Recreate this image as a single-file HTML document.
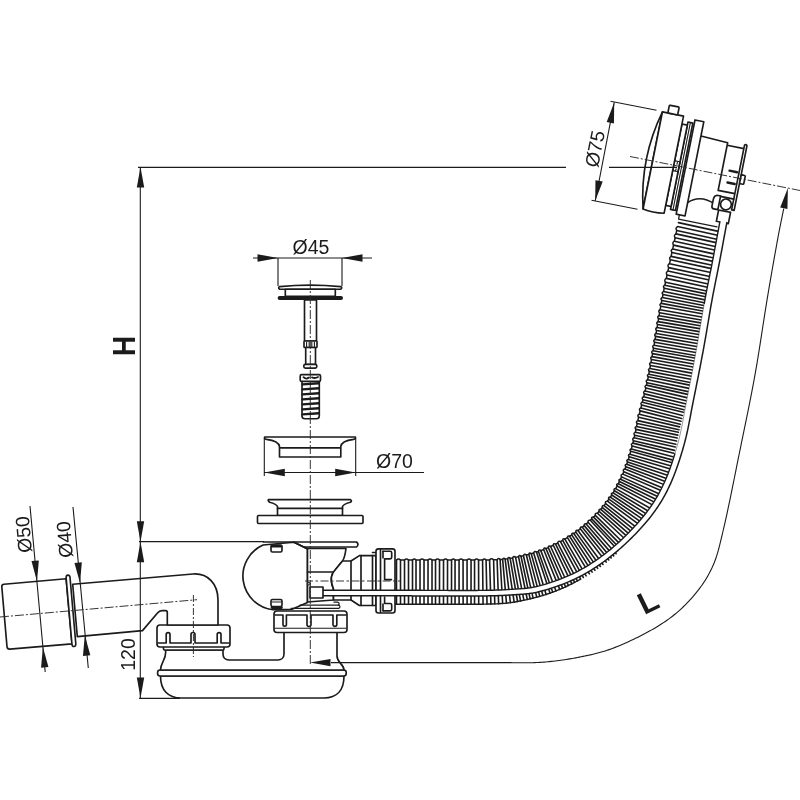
<!DOCTYPE html>
<html><head><meta charset="utf-8"><title>Bath drain diagram</title>
<style>html,body{margin:0;padding:0;background:#fff}body{width:800px;height:800px;overflow:hidden;font-family:"Liberation Sans",sans-serif}svg{display:block;filter:grayscale(1)}</style>
</head><body>
<svg width="800" height="800" viewBox="0 0 800 800">
<rect width="800" height="800" fill="#fff"/>
<g font-family="'Liberation Sans', sans-serif" fill="#1b1b1b">
<g stroke="#1b1b1b" stroke-width="1.65" fill="#fff" stroke-linejoin="round" stroke-linecap="round">
<path d="M160.5 676C160.5 690 168 698 181 698H324C337 698 344 690 344 676Z"/>
<rect x="157.6" y="670" width="188.6" height="6" rx="2.5"/>
<path d="M165.5 650C167 659 161 661 160.5 670H344C344 664 337 663 337 656V632H284V654C284 658 281 660 278 660H229C225 660 223 657 223 654V650Z"/>
<rect x="163.5" y="645" width="60.5" height="5" rx="1"/>
<rect x="157" y="625" width="73" height="22" rx="3"/>
<path d="M158 643H166.2V634.5a1.9 1.9 0 0 1 3.8 0V643H191V634.5a2 2 0 0 1 4 0V643H217.2V634.5a1.9 1.9 0 0 1 3.8 0V643H229" fill="none"/>
<rect x="274" y="611" width="73" height="21.5" rx="3"/>
<path d="M275 615H283V624.5a1.7 1.7 0 0 0 3.4 0V615H307V624.5a2 2 0 0 0 4 0V615H333V624.5a1.9 1.9 0 0 0 3.8 0V615H346" fill="none"/>
<path d="M275 628.3H346" fill="none" stroke-width="1.1"/>
<path d="M72.7 584.2L193 574C208 573 218 584 218 600V625H167.3V612.5Q167.3 610.6 165.5 610.6H162Q159.3 610.8 157.5 613L142.5 630.6L77.3 636.6Z"/>
<path d="M4 584.3Q1.6 584.6 1.8 586.8L7 646.6Q7.3 649.3 9.8 649.1L72 643.9L66.1 578.7Z"/>
<path d="M66.1 577.6Q66.3 575 67.8 575.1Q69.6 575 70 577.25L75.84 644Q75.6 646.6 74.05 646.5Q72.3 646.6 71.96 644.3Z"/>
<path d="M263 545A34 34 0 0 0 273 609.8L292 609.3L307.5 602.5V549L294 542.3Z"/>
<path d="M307.5 548.5H346C345 556 344 559 342.5 561L335.5 569.5C332 573 331 577 331.3 581C331.5 585 332.5 587 333.5 589V600L307.5 602Z"/>
<path d="M307.5 572H334" fill="none"/>
<path d="M342.5 561H351L359.4 555.6H376V605.5H359.4L351 600H333.5V589C332 585 331 581 331.5 577C332 573 334 571 335.5 569.5Z"/>
<path d="M351 561V600M361 555.6V605.5M372.5 555.6V605.5" fill="none"/>
<path d="M263.5 542H356.5Q359.5 544.4 356.5 547H304.5" fill="none"/>
<path d="M294 542.3L307.5 548.8" fill="none"/>
<path d="M300 605.2H339Q341 606.8 339 608.3H291" fill="none" stroke-width="1.2"/>
<path d="M334 602.2H338Q340 603.5 338.5 605" fill="none" stroke-width="1.2"/>
<rect x="271" y="545" width="11" height="7" rx="1.5" fill="#fff"/>
<path d="M272 546.2H281" stroke-width="2.6" fill="none"/>
<rect x="271" y="599.5" width="11" height="7" rx="1.5" fill="#fff"/>
<path d="M272 607.6H281.5" stroke-width="2.6" fill="none"/>
<path d="M272 602H281" stroke-width="1" fill="none"/>
<path d="M372.5 552.5L376 552.5" fill="none"/>
<rect x="376" y="548.8" width="19" height="64.2" rx="2.5"/>
<path d="M380.5 549.5V612.3" fill="none"/>
<path d="M383 551.2H390.2Q391.7 551.2 391.7 552.7V557.3Q391.7 558.8 390.2 558.8H384.6V579.6H391.5" fill="none"/>
<path d="M383 551.2V558" fill="none"/>
<path d="M383 610.8H390.2Q391.7 610.8 391.7 609.3V605Q391.7 603.5 390.2 603.5H384.6V597" fill="none"/>
<path d="M383 610.8V604" fill="none"/>
</g>
<g stroke="#1b1b1b" stroke-width="1.6" stroke-linecap="round" fill="none">
<path d="M396.5 560.1L396.5 604.2 M400.5 560.1L400.5 604.2 M404.51 560.1L404.51 604.2 M408.51 560.1L408.51 604.2 M412.51 560.1L412.51 604.2 M416.01 560.1L416.01 604.2 M420.02 560.1L420.02 604.2 M424.02 560.1L424.02 604.2 M428.02 560.1L428.02 604.2 M432.02 560.1L432.01 604.2 M435.53 560.1L435.5 604.2 M439.53 560.11L439.49 604.21 M443.53 560.11L443.49 604.21 M447.53 560.11L447.5 604.21 M451.54 560.11L451.52 604.21 M455.04 560.11L455.05 604.21 M459.04 560.11L459.09 604.21 M463.05 560.1L463.14 604.2 M467.05 560.1L467.11 604.2 M471.05 560.09L471.04 604.19 M474.55 560.1L474.55 604.2 M478.56 560.09L478.71 604.19 M482.57 560.06L483.06 604.16 M486.08 560.01L487.03 604.1 M489.59 559.91L490.9 603.99 M493.59 559.8L494.79 603.88 M497.09 559.69L498.61 603.72 M500.11 559.56L502.67 603.47 M502.63 559.38L506.47 603.14 M505.15 559.11L510.38 602.68 M507.66 558.77L514.15 602.11 M510.14 558.37L517.56 601.51 M512.62 557.93L520.54 600.92 M515.58 557.37L523.89 600.21 M518.53 556.78L527.29 599.47 M520.99 556.26L530.17 598.8 M523.44 555.72L533.12 598.09 M526.37 555.03L536.72 597.17 M528.81 554.41L539.79 596.34 M531.24 553.75L542.92 595.43 M533.66 553.05L546.12 594.45 M536.55 552.14L550.07 593.13 M538.46 551.49L552.74 592.18 M540.83 550.63L556.01 590.93 M543.64 549.53L559.73 589.4 M545.97 548.57L562.69 588.12 M548.28 547.57L565.59 586.8 M550.57 546.54L568.45 585.46 M553.3 545.25L571.83 583.8 M555.56 544.15L574.61 582.37 M557.8 543.01L577.37 580.91 M560.47 541.6L580.67 579.1 M562.68 540.39L583.4 577.53 M564.87 539.15L586.13 575.92 M567.47 537.61L589.41 573.9 M569.61 536.29L592.16 572.14 M571.73 534.93L594.93 570.3 M573.82 533.53L597.67 568.39 M575.88 532.09L600.37 566.44 M577.92 530.6L603.01 564.45 M580.33 528.78L606.14 562.04 M582.3 527.22L608.71 560.01 M584.25 525.62L611.22 557.95 M586.17 523.99L613.68 555.86 M588.06 522.33L616.1 553.74 M590.29 520.3L617.59 549.71 M591.76 518.92L619.49 548.05 M593.57 517.17L621.86 545.93 M595.35 515.39L624.24 543.74 M597.44 513.21L627.13 541 M599.14 511.35L629.51 538.67 M600.81 509.46L631.86 536.32 M602.44 507.54L634.16 533.94 M604.03 505.59L636.43 531.55 M605.59 503.61L638.65 529.14 M607.41 501.2L641.27 526.22 M608.89 499.16L643.18 523.59 M610.33 497.1L645.03 520.94 M611.74 495.01L646.86 518.23 M613.11 492.9L648.68 515.41 M614.43 490.75L650.51 512.45 M615.71 488.58L652.27 509.44 M617.17 485.93L654.26 505.84 M618.34 483.7L655.82 502.87 M619.47 481.45L657.29 499.94 M620.55 479.18L658.68 497.04 M621.6 476.89L659.99 494.18 M622.82 474.13L661.47 490.82 M623.8 471.82L662.65 488.05 M624.94 469.03L664.05 484.62 M625.85 466.68L665.23 481.57 M626.72 464.31L666.38 478.43 M627.54 461.93L667.46 475.31 M628.32 459.54L668.46 472.25 M629.21 456.66L669.56 468.68 M629.91 454.25L670.39 465.81 M630.73 451.35L671.32 462.51 M631.38 448.93L672.04 459.86 M632.15 446.02L672.88 456.68 M632.9 443.1L673.75 453.29 M633.5 440.66L674.46 450.37 M634.17 437.73L675.24 446.98 M634.72 435.28L675.85 444.25 M635.35 432.34L676.53 441.09 M635.97 429.4L677.17 438.05 M636.58 426.46L677.78 435.12 M637.21 423.53L678.37 432.34 M637.84 420.6L678.94 429.74 M638.62 417.2L679.6 426.85 M639.32 414.29L680.21 424.32 M640.17 410.9L680.97 421.27 M640.91 407.99L681.69 418.47 M641.66 405.08L682.46 415.45 M642.39 402.16L683.26 412.29 M642.99 399.73L683.89 409.72 M643.7 396.81L684.6 406.79 M644.41 393.9L685.32 403.84 M645.12 390.98L686.06 400.78 M645.81 388.05L686.81 397.62 M646.48 385.12L687.55 394.39 M647.03 382.67L688.16 391.65 M647.66 379.73L688.86 388.37 M648.26 376.78L689.53 385.14 M648.76 374.32L690.06 382.49 M649.33 371.37L690.67 379.33 M649.89 368.42L691.27 376.21 M650.44 365.47L691.84 373.12 M650.99 362.51L692.4 370.07 M651.52 359.56L692.95 367.04 M652.06 356.6L693.49 364.04 M652.58 353.64L694.03 361.05 M653.11 350.69L694.56 358.07 M653.55 348.22L695.01 355.55 M654.07 345.27L695.54 352.49 M654.58 342.31L696.07 349.44 M655.09 339.35L696.59 346.42 M655.59 336.39L697.1 343.43 M656.09 333.43L697.6 340.45 M656.59 330.46L698.1 337.48 M657.09 327.51L698.6 334.53 M657.59 324.55L699.1 331.59 M658.1 321.59L699.6 328.66 M658.6 318.63L700.1 325.74 M659.11 315.67L700.6 322.84 M659.62 312.71L701.1 319.95 M660.14 309.76L701.6 317.08 M660.76 306.31L702.19 313.77 M661.29 303.36L702.7 310.97 M661.84 300.42L703.21 308.21 M662.4 297.47L703.74 305.44 M662.98 294.53L704.28 302.67 M663.56 291.59L704.83 299.9 M664.26 288.16L705.49 296.67 M664.87 285.23L706.07 293.88 M665.49 282.29L706.67 291.08 M666.34 278.38L707.48 287.28 M667.08 274.96L708.21 283.91 M667.93 271.05L709.07 280 M668.67 267.63L709.82 276.53 M669.52 263.71L710.68 272.56 M670.36 259.8L711.52 268.65 M671.1 256.38L712.25 265.27 M671.94 252.46L713.09 261.39 M672.69 249.04L713.82 258 M673.54 245.13L714.67 254.11 M674.39 241.22L715.52 250.21 M675.14 237.8L716.27 246.8 M676 233.89L717.12 242.89 M676.75 230.47L717.87 239.46 M677.6 226.56L718.73 235.54 M678.45 222.65L719.59 231.61"/>
</g>
<path d="M396.5 560.1Q398.5 557.9 400.5 560.1L404.51 560.1Q406.51 557.9 408.51 560.1L412.51 560.1Q414.26 557.9 416.01 560.1L420.02 560.1Q422.02 557.9 424.02 560.1L428.02 560.1Q430.02 557.9 432.02 560.1L435.53 560.1Q437.53 557.9 439.53 560.11L443.53 560.11Q445.53 557.91 447.53 560.11L451.54 560.11Q453.29 557.91 455.04 560.11L459.04 560.11Q461.04 557.91 463.05 560.1L467.05 560.1Q469.05 557.9 471.05 560.09L474.55 560.1Q476.55 557.89 478.56 560.09L482.57 560.06Q484.29 557.83 486.08 560.01L489.59 559.91Q491.52 557.66 493.59 559.8L497.09 559.69Q498.5 557.43 500.11 559.56L502.63 559.38Q503.67 557.06 505.15 559.11L507.66 558.77Q508.55 556.4 510.14 558.37L512.62 557.93Q513.69 555.49 515.58 557.37L518.53 556.78Q519.3 554.37 520.99 556.26L523.44 555.72Q524.4 553.23 526.37 555.03L528.81 554.41Q529.45 551.96 531.24 553.75L533.66 553.05Q534.44 550.5 536.55 552.14L538.46 551.49Q538.89 548.99 540.83 550.63L543.64 549.53Q543.97 547.01 545.97 548.57L548.28 547.57Q548.52 545.05 550.57 546.54L553.3 545.25Q553.47 542.72 555.56 544.15L557.8 543.01Q558.11 540.36 560.47 541.6L562.68 540.39Q562.69 537.86 564.87 539.15L567.47 537.61Q567.38 535.08 569.61 536.29L571.73 534.93Q571.55 532.4 573.82 533.53L575.88 532.09Q575.61 529.57 577.92 530.6L580.33 528.78Q579.95 526.27 582.3 527.22L584.25 525.62Q583.79 523.13 586.17 523.99L588.06 522.33Q587.7 519.69 590.29 520.3L591.76 518.92Q591.13 516.47 593.57 517.17L595.35 515.39Q594.81 512.78 597.44 513.21L599.14 511.35Q598.33 508.95 600.81 509.46L602.44 507.54Q601.53 505.17 604.03 505.59L605.59 503.61Q604.74 501.08 607.41 501.2L608.89 499.16Q607.81 496.87 610.33 497.1L611.74 495.01Q610.57 492.76 613.11 492.9L614.43 490.75Q613.17 488.55 615.71 488.58L617.17 485.93Q615.81 483.79 618.34 483.7L619.47 481.45Q618.02 479.36 620.55 479.18L621.6 476.89Q620.2 474.62 622.82 474.13L623.8 471.82Q622.33 469.59 624.94 469.03L625.85 466.68Q624.22 464.74 626.72 464.31L627.54 461.93Q625.84 460.06 628.32 459.54L629.21 456.66Q627.45 454.83 629.91 454.25L630.73 451.35Q628.93 449.56 631.38 448.93L632.15 446.02Q630.4 444.02 632.9 443.1L633.5 440.66Q631.69 438.7 634.17 437.73L634.72 435.28Q632.88 433.34 635.35 432.34L635.97 429.4Q634.12 427.48 636.58 426.46L637.21 423.53Q635.37 421.59 637.84 420.6L638.62 417.2Q636.83 415.23 639.32 414.29L640.17 410.9Q638.41 408.9 640.91 407.99L641.66 405.08Q639.89 403.09 642.39 402.16L642.99 399.73Q641.21 397.75 643.7 396.81L644.41 393.9Q642.63 391.92 645.12 390.98L645.81 388.05Q644 386.09 646.48 385.12L647.03 382.67Q645.19 380.74 647.66 379.73L648.26 376.78Q646.35 375.12 648.76 374.32L649.33 371.37Q647.45 369.48 649.89 368.42L650.44 365.47Q648.55 363.59 650.99 362.51L651.52 359.56Q649.62 357.69 652.06 356.6L652.58 353.64Q650.68 351.78 653.11 350.69L653.55 348.22Q651.64 346.36 654.07 345.27L654.58 342.31Q652.67 340.45 655.09 339.35L655.59 336.39Q653.67 334.54 656.09 333.43L656.59 330.46Q654.67 328.62 657.09 327.51L657.59 324.55Q655.68 322.7 658.1 321.59L658.6 318.63Q656.69 316.78 659.11 315.67L659.62 312.71Q657.72 310.86 660.14 309.76L660.76 306.31Q658.86 304.45 661.29 303.36L661.84 300.42Q659.96 298.53 662.4 297.47L662.98 294.53Q661.11 292.63 663.56 291.59L664.26 288.16Q662.41 286.24 664.87 285.23L665.49 282.29Q663.76 279.87 666.34 278.38L667.08 274.96Q665.35 272.54 667.93 271.05L668.67 267.63Q666.94 265.2 669.52 263.71L670.36 259.8Q668.58 257.62 671.1 256.38L671.94 252.46Q670.17 250.29 672.69 249.04L673.54 245.13Q671.82 242.71 674.39 241.22L675.14 237.8Q673.42 235.38 676 233.89L676.75 230.47Q675.02 228.04 677.6 226.56" fill="none" stroke="#1b1b1b" stroke-width="1.5" stroke-linejoin="round"/>
<path d="M395 604.2 L397 604.2 L399 604.2 L401 604.2 L403.01 604.2 L405.01 604.2 L407.01 604.2 L409.01 604.2 L411.01 604.2 L413.01 604.2 L415.01 604.2 L417.01 604.2 L419.02 604.2 L421.02 604.2 L423.02 604.2 L425.02 604.2 L427.02 604.2 L429.02 604.2 L431.01 604.2 L433.01 604.2 L435 604.2 L436.99 604.2 L438.99 604.2 L440.99 604.21 L442.99 604.21 L445 604.21 L447 604.21 L449.01 604.21 L451.02 604.21 L453.03 604.21 L455.05 604.21 L457.07 604.21 L459.09 604.21 L461.12 604.21 L463.14 604.2 L465.14 604.2 L467.11 604.2 L469.07 604.19 L471.04 604.19 L473.03 604.2 L475.06 604.2 L477.13 604.19 L479.24 604.19 L481.4 604.18 L483.62 604.15 L485.89 604.12 L488.17 604.07 L490.38 604.01 L492.4 603.95 L494.31 603.89 L496.32 603.84 L498.61 603.72 L501.24 603.57 L504.16 603.35 L507.25 603.06 L510.38 602.68 L513.42 602.23 L516.25 601.75 L518.79 601.27 L521.1 600.8 L523.33 600.33 L525.58 599.85 L527.86 599.34 L530.17 598.8 L532.52 598.24 L534.91 597.64 L537.33 597.01 L539.79 596.34 L542.28 595.62 L544.83 594.85 L547.42 594.02 L550.07 593.13 L552.74 592.18 L555.37 591.18 L557.9 590.17 L560.33 589.15 L562.69 588.12 L565.02 587.07 L567.31 586 L569.58 584.91 L571.83 583.8 L574.06 582.66 L576.27 581.5 L578.47 580.31 L580.67 579.1" fill="none" stroke="#1b1b1b" stroke-width="1.4"/>
<g stroke="#1b1b1b" stroke-width="1.65" fill="#fff" stroke-linejoin="round" stroke-linecap="round">
<g transform="translate(652.75,160.45) rotate(11.3)">
<path d="M42.5 30H75V52.3H36.8V48H42.5Z" stroke="none"/>
<path d="M36.8 48.5V52.5H76" fill="none" stroke-width="1.3"/>
<path d="M42.5 -33.4L70 -32V-29.5H87V16.5H70V30H42.5Z" stroke="none"/>
<path d="M42.5 -33.4L70 -32V16.5M70 -29.5H87M70 16.5H87" fill="none"/>
<path d="M42.5 34.5Q53 24 69 30.5" fill="none"/>
<path d="M87 -33Q88.2 -34.5 89.5 -33L89.6 33L87 33Z"/>
<rect x="89.6" y="-3.3" width="4.2" height="9" rx="0.8"/>
<path d="M77.3 -5H85M77.6 7H85" fill="none" stroke-width="2.4"/>
<path d="M70 21.5H73.5V35.5H69.2Q67 35.5 67 33V26Q67 22.5 70 21.5Z"/>
<circle cx="80.4" cy="28.8" r="5.4"/>
<path d="M73.5 22H87" fill="none"/>
<rect x="74.3" y="35.7" width="12.2" height="11.5"/>
<rect x="33.5" y="-48" width="9" height="96"/>
<rect x="27" y="-44.5" width="5" height="89"/>
<path d="M29.5 -44.5V44.5" fill="none" stroke-width="1.1"/>
<rect x="21.5" y="-41.5" width="5.5" height="83"/>
<path d="M22 -4H27V6H22M24.5 -4V-1M24.5 6V3.5" fill="none" stroke-width="1.1"/>
<path d="M0 -49.5Q-13 0 0 49.5Z"/>
<path d="M0 -49.5H21.5V49.5Q10 51.5 0 49.5Z"/>
<rect x="5.5" y="-57.5" width="10" height="8" rx="1"/>
</g>
</g>
<path d="M323 595.8 L325 595.8 L327 595.8 L329 595.8 L331 595.8 L333 595.8 L335 595.8 L337 595.8 L339 595.8 L341 595.8 L343 595.8 L345 595.8 L347 595.8 L349 595.8 L351 595.8 L353 595.8 L355 595.8 L357 595.8 L359 595.8 L361 595.8 L363 595.8 L365 595.8 L367 595.8 L369 595.79 L371 595.79 L373 595.79 L375 595.79 L377 595.79 L379 595.79 L381 595.79 L383 595.79 L385 595.79 L387 595.79 L389 595.79 L391 595.79 L393.01 595.8 L395.01 595.8 L397.01 595.81 L399.01 595.81 L401.01 595.82 L403.01 595.83 L405.01 595.84 L407.01 595.85 L409.01 595.86 L411.01 595.87 L413.01 595.88 L415.01 595.89 L417.01 595.9 L419.01 595.91 L421.01 595.92 L423.01 595.93 L425.01 595.94 L427.01 595.95 L429.01 595.96 L431.01 595.97 L433.01 595.98 L435.01 595.98 L437.01 595.99 L439.01 596 L441.01 596 L443.01 596.01 L445.01 596.02 L447.01 596.02 L449.01 596.03 L451.01 596.04 L453.01 596.05 L455.01 596.06 L457.01 596.06 L459.01 596.07 L461.01 596.07 L463.01 596.08 L465.01 596.08 L467.01 596.08 L469.01 596.08 L471.01 596.07 L473.01 596.06 L475.01 596.05 L477.01 596.03 L479.01 596.01 L481.01 595.98 L483.01 595.96 L485.01 595.93 L487.01 595.9 L489.01 595.86 L491.01 595.82 L493.01 595.78 L495.01 595.73 L497.01 595.67 L499.01 595.6 L501.01 595.52 L503 595.43 L505 595.32 L507 595.2 L508.99 595.07 L510.99 594.94 L512.99 594.81 L514.98 594.69 L516.98 594.57 L518.98 594.46 L520.97 594.34 L522.97 594.19 L524.96 594.03 L526.95 593.83 L528.94 593.6 L530.92 593.32 L532.89 593.01 L534.86 592.64 L536.82 592.24 L538.77 591.78 L540.71 591.3 L542.64 590.78 L544.56 590.24 L546.48 589.68 L548.4 589.1 L550.31 588.51 L552.21 587.9 L554.11 587.27 L556.01 586.62 L557.89 585.96 L559.77 585.28 L561.65 584.58 L563.52 583.87 L565.38 583.13 L567.23 582.38 L569.08 581.61 L570.91 580.81 L572.74 580 L574.55 579.16 L576.36 578.3 L578.15 577.41 L579.93 576.5 L581.7 575.57 L583.46 574.61 L585.2 573.64 L586.94 572.65 L588.67 571.63 L590.38 570.6 L592.08 569.56 L593.78 568.49 L595.46 567.41 L597.13 566.3 L598.79 565.19 L600.43 564.05 L602.07 562.9 L603.7 561.74 L605.31 560.56 L606.92 559.36 L608.51 558.15 L610.09 556.93 L611.66 555.69 L613.22 554.44 L614.77 553.17 L616.31 551.89 L617.83 550.6 L619.35 549.29 L620.85 547.97 L622.34 546.64 L623.82 545.3 L625.29 543.94 L626.75 542.57 L628.2 541.19 L629.64 539.81 L631.07 538.41 L632.49 537 L633.9 535.58 L635.3 534.15 L636.68 532.71 L638.06 531.26 L639.42 529.79 L640.78 528.32 L642.12 526.84 L643.45 525.34 L644.76 523.83 L646.06 522.31 L647.34 520.78 L648.61 519.23 L649.86 517.67 L651.1 516.1 L652.32 514.51 L653.52 512.91 L654.7 511.3 L655.86 509.67 L656.99 508.02 L658.11 506.36 L659.2 504.69 L660.27 503 L661.32 501.29 L662.34 499.57 L663.34 497.84 L664.32 496.1 L665.27 494.34 L666.2 492.57 L667.12 490.79 L668.01 489 L668.89 487.2 L669.74 485.39 L670.57 483.57 L671.38 481.74 L672.17 479.91 L672.94 478.06 L673.69 476.2 L674.42 474.34 L675.13 472.47 L675.83 470.6 L676.51 468.72 L677.18 466.83 L677.83 464.94 L678.47 463.05 L679.1 461.15 L679.72 459.25 L680.33 457.34 L680.92 455.43 L681.51 453.52 L682.08 451.6 L682.65 449.69 L683.21 447.77 L683.75 445.84 L684.29 443.91 L684.81 441.98 L685.31 440.05 L685.8 438.11 L686.26 436.16 L686.71 434.21 L687.15 432.26 L687.58 430.31 L687.99 428.35 L688.39 426.39 L688.79 424.43 L689.17 422.47 L689.56 420.5 L689.93 418.54 L690.31 416.57 L690.68 414.61 L691.05 412.64 L691.42 410.68 L691.79 408.71 L692.17 406.75 L692.55 404.79 L692.94 402.82 L693.33 400.86 L693.72 398.9 L694.12 396.94 L694.52 394.98 L694.91 393.02 L695.31 391.06 L695.7 389.1 L696.1 387.14 L696.49 385.18 L696.88 383.21 L697.27 381.25 L697.66 379.29 L698.05 377.33 L698.44 375.37 L698.83 373.4 L699.21 371.44 L699.6 369.48 L699.98 367.52 L700.36 365.55 L700.74 363.59 L701.12 361.62 L701.49 359.66 L701.87 357.69 L702.24 355.73 L702.61 353.76 L702.98 351.8 L703.34 349.83 L703.71 347.86 L704.07 345.9 L704.42 343.93 L704.77 341.96 L705.12 339.99 L705.46 338.02 L705.81 336.05 L706.14 334.08 L706.48 332.11 L706.82 330.13 L707.15 328.16 L707.49 326.19 L707.82 324.22 L708.15 322.25 L708.48 320.27 L708.82 318.3 L709.15 316.33 L709.48 314.36 L709.82 312.39 L710.16 310.41 L710.5 308.44 L710.84 306.47 L711.19 304.5 L711.54 302.53 L711.9 300.57 L712.26 298.6 L712.63 296.63 L713 294.67 L713.38 292.7 L713.76 290.74 L714.14 288.78 L714.53 286.81 L714.92 284.85 L715.32 282.89 L715.71 280.93 L716.11 278.97 L716.51 277.01 L716.91 275.05 L717.3 273.09 L717.7 271.13 L718.09 269.17 L718.48 267.21 L718.86 265.24 L719.24 263.28 L719.62 261.32 L719.99 259.35 L720.37 257.39 L720.74 255.42 L721.11 253.45 L721.47 251.49 L721.84 249.52 L722.21 247.56 L722.57 245.59 L722.94 243.62 L723.3 241.66 L723.66 239.69 L724.03 237.72 L724.39 235.76 L724.75 233.79 L725.12 231.82 L725.48 229.86 L725.85 227.89 L726.22 225.92 L726.6 223.96 L727 222 L720.15 220.57 L719.73 222.59 L719.34 224.62 L718.97 226.6 L718.6 228.58 L718.24 230.55 L717.87 232.52 L717.51 234.48 L717.14 236.45 L716.78 238.42 L716.42 240.38 L716.05 242.35 L715.69 244.31 L715.32 246.28 L714.96 248.24 L714.59 250.2 L714.23 252.17 L713.86 254.13 L713.49 256.09 L713.12 258.05 L712.74 260 L712.37 261.96 L711.99 263.91 L711.61 265.85 L711.22 267.8 L710.83 269.75 L710.44 271.71 L710.05 273.66 L709.65 275.62 L709.25 277.58 L708.85 279.54 L708.46 281.51 L708.06 283.48 L707.67 285.45 L707.28 287.42 L706.89 289.4 L706.5 291.38 L706.12 293.36 L705.75 295.34 L705.38 297.32 L705.01 299.31 L704.65 301.29 L704.3 303.28 L703.95 305.26 L703.6 307.25 L703.26 309.23 L702.92 311.21 L702.58 313.18 L702.25 315.16 L701.91 317.14 L701.58 319.11 L701.25 321.08 L700.92 323.05 L700.58 325.02 L700.25 326.99 L699.92 328.96 L699.59 330.93 L699.27 332.9 L698.94 334.86 L698.61 336.83 L698.28 338.79 L697.94 340.75 L697.61 342.71 L697.27 344.66 L696.92 346.62 L696.57 348.58 L696.22 350.54 L695.86 352.5 L695.5 354.46 L695.14 356.42 L694.78 358.38 L694.42 360.34 L694.05 362.3 L693.68 364.26 L693.32 366.22 L692.95 368.18 L692.57 370.14 L692.2 372.1 L691.82 374.06 L691.45 376.02 L691.07 377.98 L690.69 379.94 L690.31 381.9 L689.93 383.86 L689.55 385.82 L689.17 387.78 L688.79 389.74 L688.4 391.71 L688.02 393.67 L687.63 395.63 L687.25 397.59 L686.86 399.56 L686.48 401.54 L686.1 403.53 L685.73 405.51 L685.36 407.48 L684.99 409.46 L684.63 411.43 L684.27 413.4 L683.91 415.36 L683.55 417.32 L683.19 419.28 L682.82 421.22 L682.45 423.17 L682.07 425.1 L681.69 427.04 L681.29 428.96 L680.89 430.88 L680.47 432.79 L680.04 434.69 L679.59 436.59 L679.13 438.48 L678.66 440.36 L678.16 442.24 L677.65 444.12 L677.12 446.02 L676.59 447.91 L676.04 449.8 L675.48 451.69 L674.92 453.58 L674.34 455.46 L673.76 457.33 L673.16 459.2 L672.56 461.07 L671.94 462.93 L671.31 464.78 L670.67 466.63 L670.02 468.46 L669.35 470.29 L668.66 472.11 L667.96 473.93 L667.25 475.73 L666.52 477.52 L665.77 479.3 L665 481.06 L664.21 482.82 L663.39 484.57 L662.56 486.31 L661.7 488.05 L660.83 489.77 L659.94 491.48 L659.03 493.18 L658.1 494.87 L657.15 496.53 L656.18 498.19 L655.19 499.83 L654.17 501.45 L653.13 503.07 L652.07 504.66 L650.99 506.25 L649.88 507.82 L648.75 509.38 L647.61 510.94 L646.44 512.48 L645.25 514.01 L644.04 515.53 L642.82 517.03 L641.59 518.53 L640.33 520.01 L639.06 521.49 L637.78 522.95 L636.48 524.41 L635.17 525.85 L633.84 527.29 L632.5 528.71 L631.16 530.13 L629.8 531.54 L628.42 532.94 L627.04 534.32 L625.65 535.7 L624.25 537.07 L622.84 538.43 L621.42 539.77 L619.99 541.11 L618.55 542.43 L617.1 543.74 L615.64 545.04 L614.17 546.32 L612.69 547.59 L611.2 548.85 L609.7 550.09 L608.18 551.31 L606.64 552.52 L605.1 553.71 L603.55 554.89 L601.99 556.05 L600.41 557.2 L598.83 558.34 L597.24 559.46 L595.64 560.56 L594.02 561.64 L592.4 562.71 L590.77 563.77 L589.12 564.8 L587.47 565.82 L585.81 566.82 L584.13 567.8 L582.45 568.76 L580.76 569.71 L579.06 570.63 L577.35 571.53 L575.63 572.41 L573.91 573.26 L572.17 574.09 L570.42 574.9 L568.66 575.69 L566.88 576.46 L565.09 577.21 L563.3 577.94 L561.49 578.65 L559.67 579.34 L557.85 580.02 L556.01 580.69 L554.18 581.33 L552.33 581.96 L550.48 582.57 L548.62 583.17 L546.76 583.75 L544.89 584.31 L543.02 584.85 L541.15 585.38 L539.29 585.88 L537.45 586.34 L535.61 586.77 L533.78 587.15 L531.94 587.49 L530.09 587.79 L528.23 588.04 L526.35 588.26 L524.45 588.45 L522.54 588.61 L520.6 588.75 L518.64 588.87 L516.66 588.98 L514.66 589.1 L512.64 589.22 L510.62 589.35 L508.62 589.48 L506.64 589.61 L504.68 589.73 L502.72 589.83 L500.76 589.93 L498.8 590.01 L496.83 590.07 L494.86 590.13 L492.88 590.18 L490.9 590.23 L488.91 590.26 L486.92 590.3 L484.93 590.33 L482.93 590.36 L480.93 590.39 L478.94 590.41 L476.95 590.43 L474.97 590.45 L472.98 590.46 L470.99 590.47 L469 590.48 L467.01 590.48 L465.01 590.48 L463.02 590.48 L461.02 590.47 L459.03 590.47 L457.03 590.46 L455.03 590.46 L453.03 590.45 L451.03 590.44 L449.03 590.43 L447.03 590.42 L445.03 590.42 L443.03 590.41 L441.02 590.4 L439.02 590.4 L437.03 590.39 L435.03 590.38 L433.03 590.38 L431.03 590.37 L429.03 590.36 L427.03 590.35 L425.03 590.34 L423.04 590.33 L421.04 590.32 L419.04 590.31 L417.04 590.3 L415.04 590.29 L413.04 590.28 L411.04 590.27 L409.03 590.26 L407.03 590.25 L405.03 590.24 L403.03 590.23 L401.03 590.22 L399.03 590.21 L397.02 590.21 L395.02 590.2 L393.02 590.2 L391.01 590.19 L389.01 590.19 L387.01 590.19 L385.01 590.19 L383 590.19 L381 590.19 L379 590.19 L377 590.19 L375 590.19 L373 590.19 L371 590.19 L369 590.19 L367 590.2 L365 590.2 L363 590.2 L361 590.2 L359 590.2 L357 590.2 L355 590.2 L353 590.2 L351 590.2 L349 590.2 L347 590.2 L345 590.2 L343 590.2 L341 590.2 L339 590.2 L337 590.2 L335 590.2 L333 590.2 L331 590.2 L329 590.2 L327 590.2 L325 590.2 L323 590.2Z" fill="#fff" stroke="none"/>
<path d="M323 595.8 L325 595.8 L327 595.8 L329 595.8 L331 595.8 L333 595.8 L335 595.8 L337 595.8 L339 595.8 L341 595.8 L343 595.8 L345 595.8 L347 595.8 L349 595.8 L351 595.8 L353 595.8 L355 595.8 L357 595.8 L359 595.8 L361 595.8 L363 595.8 L365 595.8 L367 595.8 L369 595.79 L371 595.79 L373 595.79 L375 595.79 L377 595.79 L379 595.79 L381 595.79 L383 595.79 L385 595.79 L387 595.79 L389 595.79 L391 595.79 L393.01 595.8 L395.01 595.8 L397.01 595.81 L399.01 595.81 L401.01 595.82 L403.01 595.83 L405.01 595.84 L407.01 595.85 L409.01 595.86 L411.01 595.87 L413.01 595.88 L415.01 595.89 L417.01 595.9 L419.01 595.91 L421.01 595.92 L423.01 595.93 L425.01 595.94 L427.01 595.95 L429.01 595.96 L431.01 595.97 L433.01 595.98 L435.01 595.98 L437.01 595.99 L439.01 596 L441.01 596 L443.01 596.01 L445.01 596.02 L447.01 596.02 L449.01 596.03 L451.01 596.04 L453.01 596.05 L455.01 596.06 L457.01 596.06 L459.01 596.07 L461.01 596.07 L463.01 596.08 L465.01 596.08 L467.01 596.08 L469.01 596.08 L471.01 596.07 L473.01 596.06 L475.01 596.05 L477.01 596.03 L479.01 596.01 L481.01 595.98 L483.01 595.96 L485.01 595.93 L487.01 595.9 L489.01 595.86 L491.01 595.82 L493.01 595.78 L495.01 595.73 L497.01 595.67 L499.01 595.6 L501.01 595.52 L503 595.43 L505 595.32 L507 595.2 L508.99 595.07 L510.99 594.94 L512.99 594.81 L514.98 594.69 L516.98 594.57 L518.98 594.46 L520.97 594.34 L522.97 594.19 L524.96 594.03 L526.95 593.83 L528.94 593.6 L530.92 593.32 L532.89 593.01 L534.86 592.64 L536.82 592.24 L538.77 591.78 L540.71 591.3 L542.64 590.78 L544.56 590.24 L546.48 589.68 L548.4 589.1 L550.31 588.51 L552.21 587.9 L554.11 587.27 L556.01 586.62 L557.89 585.96 L559.77 585.28 L561.65 584.58 L563.52 583.87 L565.38 583.13 L567.23 582.38 L569.08 581.61 L570.91 580.81 L572.74 580 L574.55 579.16 L576.36 578.3 L578.15 577.41 L579.93 576.5 L581.7 575.57 L583.46 574.61 L585.2 573.64 L586.94 572.65 L588.67 571.63 L590.38 570.6 L592.08 569.56 L593.78 568.49 L595.46 567.41 L597.13 566.3 L598.79 565.19 L600.43 564.05 L602.07 562.9 L603.7 561.74 L605.31 560.56 L606.92 559.36 L608.51 558.15 L610.09 556.93 L611.66 555.69 L613.22 554.44 L614.77 553.17 L616.31 551.89 L617.83 550.6 L619.35 549.29 L620.85 547.97 L622.34 546.64 L623.82 545.3 L625.29 543.94 L626.75 542.57 L628.2 541.19 L629.64 539.81 L631.07 538.41 L632.49 537 L633.9 535.58 L635.3 534.15 L636.68 532.71 L638.06 531.26 L639.42 529.79 L640.78 528.32 L642.12 526.84 L643.45 525.34 L644.76 523.83 L646.06 522.31 L647.34 520.78 L648.61 519.23 L649.86 517.67 L651.1 516.1 L652.32 514.51 L653.52 512.91 L654.7 511.3 L655.86 509.67 L656.99 508.02 L658.11 506.36 L659.2 504.69 L660.27 503 L661.32 501.29 L662.34 499.57 L663.34 497.84 L664.32 496.1 L665.27 494.34 L666.2 492.57 L667.12 490.79 L668.01 489 L668.89 487.2 L669.74 485.39 L670.57 483.57 L671.38 481.74 L672.17 479.91 L672.94 478.06 L673.69 476.2 L674.42 474.34 L675.13 472.47 L675.83 470.6 L676.51 468.72 L677.18 466.83 L677.83 464.94 L678.47 463.05 L679.1 461.15 L679.72 459.25 L680.33 457.34 L680.92 455.43 L681.51 453.52 L682.08 451.6 L682.65 449.69 L683.21 447.77 L683.75 445.84 L684.29 443.91 L684.81 441.98 L685.31 440.05 L685.8 438.11 L686.26 436.16 L686.71 434.21 L687.15 432.26 L687.58 430.31 L687.99 428.35 L688.39 426.39 L688.79 424.43 L689.17 422.47 L689.56 420.5 L689.93 418.54 L690.31 416.57 L690.68 414.61 L691.05 412.64 L691.42 410.68 L691.79 408.71 L692.17 406.75 L692.55 404.79 L692.94 402.82 L693.33 400.86 L693.72 398.9 L694.12 396.94 L694.52 394.98 L694.91 393.02 L695.31 391.06 L695.7 389.1 L696.1 387.14 L696.49 385.18 L696.88 383.21 L697.27 381.25 L697.66 379.29 L698.05 377.33 L698.44 375.37 L698.83 373.4 L699.21 371.44 L699.6 369.48 L699.98 367.52 L700.36 365.55 L700.74 363.59 L701.12 361.62 L701.49 359.66 L701.87 357.69 L702.24 355.73 L702.61 353.76 L702.98 351.8 L703.34 349.83 L703.71 347.86 L704.07 345.9 L704.42 343.93 L704.77 341.96 L705.12 339.99 L705.46 338.02 L705.81 336.05 L706.14 334.08 L706.48 332.11 L706.82 330.13 L707.15 328.16 L707.49 326.19 L707.82 324.22 L708.15 322.25 L708.48 320.27 L708.82 318.3 L709.15 316.33 L709.48 314.36 L709.82 312.39 L710.16 310.41 L710.5 308.44 L710.84 306.47 L711.19 304.5 L711.54 302.53 L711.9 300.57 L712.26 298.6 L712.63 296.63 L713 294.67 L713.38 292.7 L713.76 290.74 L714.14 288.78 L714.53 286.81 L714.92 284.85 L715.32 282.89 L715.71 280.93 L716.11 278.97 L716.51 277.01 L716.91 275.05 L717.3 273.09 L717.7 271.13 L718.09 269.17 L718.48 267.21 L718.86 265.24 L719.24 263.28 L719.62 261.32 L719.99 259.35 L720.37 257.39 L720.74 255.42 L721.11 253.45 L721.47 251.49 L721.84 249.52 L722.21 247.56 L722.57 245.59 L722.94 243.62 L723.3 241.66 L723.66 239.69 L724.03 237.72 L724.39 235.76 L724.75 233.79 L725.12 231.82 L725.48 229.86 L725.85 227.89 L726.22 225.92 L726.6 223.96 L727 222" fill="none" stroke="#1b1b1b" stroke-width="1.5"/>
<path d="M323 590.2 L325 590.2 L327 590.2 L329 590.2 L331 590.2 L333 590.2 L335 590.2 L337 590.2 L339 590.2 L341 590.2 L343 590.2 L345 590.2 L347 590.2 L349 590.2 L351 590.2 L353 590.2 L355 590.2 L357 590.2 L359 590.2 L361 590.2 L363 590.2 L365 590.2 L367 590.2 L369 590.19 L371 590.19 L373 590.19 L375 590.19 L377 590.19 L379 590.19 L381 590.19 L383 590.19 L385.01 590.19 L387.01 590.19 L389.01 590.19 L391.01 590.19 L393.02 590.2 L395.02 590.2 L397.02 590.21 L399.03 590.21 L401.03 590.22 L403.03 590.23 L405.03 590.24 L407.03 590.25 L409.03 590.26 L411.04 590.27 L413.04 590.28 L415.04 590.29 L417.04 590.3 L419.04 590.31 L421.04 590.32 L423.04 590.33 L425.03 590.34 L427.03 590.35 L429.03 590.36 L431.03 590.37 L433.03 590.38 L435.03 590.38 L437.03 590.39 L439.02 590.4 L441.02 590.4 L443.03 590.41 L445.03 590.42 L447.03 590.42 L449.03 590.43 L451.03 590.44 L453.03 590.45 L455.03 590.46 L457.03 590.46 L459.03 590.47 L461.02 590.47 L463.02 590.48 L465.01 590.48 L467.01 590.48 L469 590.48 L470.99 590.47 L472.98 590.46 L474.97 590.45 L476.95 590.43 L478.94 590.41 L480.93 590.39 L482.93 590.36 L484.93 590.33 L486.92 590.3 L488.91 590.26 L490.9 590.23 L492.88 590.18 L494.86 590.13 L496.83 590.07 L498.8 590.01 L500.76 589.93 L502.72 589.83 L504.68 589.73 L506.64 589.61 L508.62 589.48 L510.62 589.35 L512.64 589.22 L514.66 589.1 L516.66 588.98 L518.64 588.87 L520.6 588.75 L522.54 588.61 L524.45 588.45 L526.35 588.26 L528.23 588.04 L530.09 587.79 L531.94 587.49 L533.78 587.15 L535.61 586.77 L537.45 586.34 L539.29 585.88 L541.15 585.38 L543.02 584.85 L544.89 584.31 L546.76 583.75 L548.62 583.17 L550.48 582.57 L552.33 581.96 L554.18 581.33 L556.01 580.69 L557.85 580.02 L559.67 579.34 L561.49 578.65 L563.3 577.94 L565.09 577.21 L566.88 576.46 L568.66 575.69 L570.42 574.9 L572.17 574.09 L573.91 573.26 L575.63 572.41 L577.35 571.53 L579.06 570.63 L580.76 569.71 L582.45 568.76 L584.13 567.8 L585.81 566.82 L587.47 565.82 L589.12 564.8 L590.77 563.77 L592.4 562.71 L594.02 561.64 L595.64 560.56 L597.24 559.46 L598.83 558.34 L600.41 557.2 L601.99 556.05 L603.55 554.89 L605.1 553.71 L606.64 552.52 L608.18 551.31 L609.7 550.09 L611.2 548.85 L612.69 547.59 L614.17 546.32 L615.64 545.04 L617.1 543.74 L618.55 542.43 L619.99 541.11 L621.42 539.77 L622.84 538.43 L624.25 537.07 L625.65 535.7 L627.04 534.32 L628.42 532.94 L629.8 531.54 L631.16 530.13 L632.5 528.71 L633.84 527.29 L635.17 525.85 L636.48 524.41 L637.78 522.95 L639.06 521.49 L640.33 520.01 L641.59 518.53 L642.82 517.03 L644.04 515.53 L645.25 514.01 L646.44 512.48 L647.61 510.94 L648.75 509.38 L649.88 507.82 L650.99 506.25 L652.07 504.66 L653.13 503.07 L654.17 501.45 L655.19 499.83 L656.18 498.19 L657.15 496.53 L658.1 494.87 L659.03 493.18 L659.94 491.48 L660.83 489.77 L661.7 488.05 L662.56 486.31 L663.39 484.57 L664.21 482.82 L665 481.06 L665.77 479.3 L666.52 477.52 L667.25 475.73 L667.96 473.93 L668.66 472.11 L669.35 470.29 L670.02 468.46 L670.67 466.63 L671.31 464.78 L671.94 462.93 L672.56 461.07 L673.16 459.2 L673.76 457.33 L674.34 455.46 L674.92 453.58" fill="none" stroke="#1b1b1b" stroke-width="1.4"/>
<path d="M674.49 454.99 L675.06 453.11 L675.62 451.22 L676.18 449.33 L676.72 447.44 L677.26 445.54 L677.78 443.65 L678.29 441.77 L678.78 439.89 L679.25 438 L679.71 436.11 L680.15 434.22 L680.57 432.31 L680.99 430.4 L681.39 428.48 L681.78 426.55 L682.17 424.62 L682.54 422.68 L682.91 420.74 L683.28 418.79 L683.64 416.83 L684 414.87 L684.36 412.91 L684.72 410.94 L685.09 408.97 L685.45 406.99 L685.82 405.01 L686.19 403.03 L686.57 401.05 L686.96 399.07 L687.34 397.1 L687.73 395.14 L688.11 393.18 L688.5 391.21 L688.88 389.25 L689.27 387.29 L689.65 385.33 L690.03 383.37 L690.41 381.41 L690.79 379.45 L691.17 377.49 L691.54 375.53 L691.92 373.57 L692.29 371.61 L692.67 369.65 L693.04 367.69 L693.41 365.73 L693.78 363.77 L694.14 361.81 L694.51 359.85 L694.87 357.89 L695.23 355.93 L695.59 353.97 L695.95 352.01 L696.31 350.05 L696.66 348.09 L697.01 346.13 L697.35 344.18 L697.69 342.22 L698.03 340.26 L698.36 338.3 L698.69 336.34 L699.02 334.37 L699.35 332.41 L699.67 330.44 L700 328.47 L700.33 326.5 L700.67 324.53 L701 322.56 L701.33 320.59 L701.66 318.62 L702 316.64 L702.33 314.67 L702.67 312.69 L703.01 310.71 L703.35 308.73 L703.69 306.75 L704.04 304.77 L704.39 302.78" fill="none" stroke="#1b1b1b" stroke-width="0.8" stroke-opacity="0.6"/>
<path d="M704.21 303.78 L704.56 301.79 L704.92 299.8 L705.29 297.82 L705.66 295.84 L706.03 293.85 L706.41 291.87 L706.79 289.89 L707.18 287.92 L707.57 285.94 L707.96 283.97 L708.36 282 L708.75 280.03 L709.15 278.07 L709.55 276.11 L709.95 274.15 L710.34 272.19 L710.74 270.24 L711.13 268.29 L711.51 266.34 L711.9 264.39 L712.28 262.44 L712.65 260.49 L713.02 258.54 L713.4 256.58 L713.77 254.62 L714.13 252.66 L714.5 250.69 L714.87 248.73 L715.23 246.77 L715.6 244.8 L715.96 242.84 L716.33 240.87 L716.69 238.91 L717.05 236.94 L717.42 234.98 L717.78 233.01 L718.14 231.04 L718.51 229.07 L718.88 227.1 L719.25 225.12 L719.63 223.11 L720.04 221.06" fill="none" stroke="#1b1b1b" stroke-width="1.4"/>
<g stroke="#1b1b1b" stroke-width="1.65" fill="#fff" stroke-linejoin="round" stroke-linecap="round">
<rect x="310" y="587" width="13" height="11"/>
<circle cx="309" cy="583.8" r="1.3" stroke-width="1"/>
<path d="M279.5 289.2Q277.6 287.6 279.8 286.6Q310 283.6 340.6 286.6Q342.8 287.6 340.8 289.2Z"/>
<rect x="285.3" y="289.2" width="50" height="7"/>
<path d="M279.6 298H341" stroke-width="4" fill="none"/>
<rect x="304.5" y="300" width="12" height="41"/>
<rect x="304" y="341" width="13" height="6.5" rx="0.8"/>
<path d="M306.6 342V346.5M309.2 342V346.5M311.8 342V346.5M314.4 342V346.5" stroke-width="1.1" fill="none"/>
<rect x="305.7" y="347.5" width="9.8" height="17"/>
<rect x="303.8" y="364.4" width="13" height="3.8" rx="1.6"/>
<path d="M302 381V416Q302 418.7 305 418.7H316.3Q319.3 418.7 319.3 416V381Z"/>
<path d="M302.6 384.4L318.8 383.2M302.6 389.4L318.8 388.2M302.6 394.4L318.8 393.2M302.6 399.4L318.8 398.2M302.6 404.4L318.8 403.2M302.6 409.4L318.8 408.2M302.6 414.4L318.8 413.2" stroke-width="2.4" fill="none"/>
<rect x="300.2" y="374.6" width="20.3" height="6.8" rx="1.5"/>
<path d="M303.5 377.2Q306 379.8 309 377.6M312 377.4Q315 378.8 318 377" stroke-width="1.8" fill="none"/>
<path d="M264.6 437H355.4Q356 438.8 353.5 439.4Q341.5 441 340.8 446.5V457H279.5V446.5Q278.6 441 266.5 439.4Q264 438.8 264.6 437Z"/>
<path d="M280.5 447.8H340" fill="none"/>
<path d="M268.5 499.6H350.5Q352.4 500.8 350.4 502.2Q343.5 504 342.5 506.5V515.5H277.5V506.5Q276.5 504 269.6 502.2Q267.6 500.8 268.5 499.6Z"/>
<path d="M277.5 508.3H342.5" fill="none"/>
<rect x="257.5" y="515.5" width="105.5" height="8" rx="1"/>
</g>
<g stroke="#1b1b1b" stroke-width="1.1" fill="none">
<path d="M140.3 167V698"/>
<path d="M138 167.4H566M609 167.4H677"/>
<path d="M139 541.6H264"/>
<path d="M139 698.4H180"/>
<path d="M253 258H372M278 258V286M342 258V286"/>
<path d="M264.3 472.5H424M264.3 438V476M355.7 438V476"/>
<path d="M30 506L45.2 672M73 507L88.3 668"/>
<path d="M610.5 101.2L656.5 110.3M591.5 200.2L637.5 209.3M614.2 102.6L595.2 201"/>
<path d="M331 662.6 L335.48 662.6 L339.97 662.6 L344.46 662.6 L348.97 662.6 L353.47 662.6 L357.99 662.6 L362.51 662.6 L367.02 662.6 L371.53 662.6 L376.03 662.6 L380.53 662.6 L385 662.6 L389.46 662.6 L393.9 662.6 L398.31 662.6 L402.7 662.6 L407.06 662.6 L411.39 662.6 L415.7 662.6 L420 662.6 L424.3 662.6 L428.6 662.6 L432.91 662.6 L437.23 662.6 L441.56 662.6 L445.88 662.61 L450.19 662.61 L454.47 662.61 L458.72 662.61 L462.91 662.61 L467.04 662.61 L471.1 662.61 L475.08 662.61 L478.95 662.61 L482.72 662.61 L486.38 662.61 L489.9 662.61 L493.28 662.61 L496.5 662.61 L499.57 662.61 L502.48 662.62 L505.23 662.62 L507.82 662.64 L510.26 662.66 L512.56 662.68 L514.75 662.7 L516.82 662.73 L518.8 662.75 L520.69 662.77 L522.52 662.79 L524.3 662.8 L526.04 662.8 L527.75 662.8 L529.45 662.78 L531.16 662.75 L532.88 662.7 L534.62 662.64 L536.4 662.57 L538.22 662.47 L540.07 662.36 L541.95 662.23 L543.85 662.09 L545.74 661.94 L547.64 661.77 L549.53 661.6 L551.42 661.41 L553.3 661.21 L555.17 660.99 L557.04 660.77 L558.9 660.53 L560.76 660.28 L562.62 660.02 L564.47 659.75 L566.33 659.46 L568.19 659.16 L570.05 658.85 L571.91 658.52 L573.77 658.19 L575.63 657.84 L577.49 657.49 L579.34 657.12 L581.19 656.76 L583.03 656.39 L584.86 656.01 L586.69 655.63 L588.51 655.24 L590.33 654.84 L592.15 654.43 L593.97 654 L595.8 653.55 L597.65 653.07 L599.5 652.58 L601.37 652.05 L603.25 651.5 L605.16 650.91 L607.09 650.28 L609.04 649.62 L611.03 648.92 L613.06 648.17 L615.12 647.38 L617.24 646.54 L619.4 645.65 L621.61 644.71 L623.86 643.74 L626.16 642.72 L628.48 641.66 L630.83 640.57 L633.2 639.45 L635.57 638.31 L637.95 637.14 L640.31 635.95 L642.65 634.75 L644.97 633.54 L647.26 632.32 L649.5 631.09 L651.69 629.87 L653.82 628.65 L655.89 627.43 L657.9 626.22 L659.83 625.02 L661.7 623.83 L663.51 622.64 L665.27 621.45 L666.98 620.27 L668.64 619.08 L670.26 617.89 L671.84 616.7 L673.38 615.49 L674.89 614.28 L676.37 613.06 L677.81 611.83 L679.24 610.59 L680.64 609.32 L682.01 608.05 L683.37 606.75 L684.72 605.43 L686.05 604.1 L687.37 602.74 L688.68 601.35 L689.97 599.95 L691.26 598.53 L692.53 597.09 L693.79 595.63 L695.03 594.15 L696.25 592.66 L697.45 591.16 L698.64 589.63 L699.8 588.09 L700.95 586.53 L702.07 584.95 L703.17 583.35 L704.24 581.73 L705.3 580.09 L706.32 578.42 L707.32 576.74 L708.3 575.03 L709.25 573.3 L710.16 571.55 L711.05 569.78 L711.9 568.01 L712.7 566.24 L713.47 564.47 L714.2 562.71 L714.88 560.96 L715.53 559.21 L716.14 557.46 L716.72 555.68 L717.28 553.89 L717.83 552.05 L718.36 550.17 L718.88 548.24 L719.4 546.23 L719.92 544.15 L720.45 541.99 L721 539.72 L721.56 537.36 L722.15 534.87 L722.76 532.25 L723.4 529.5 L724.07 526.61 L724.77 523.56 L725.49 520.37 L726.24 517.03 L727 513.55 L727.78 509.95 L728.57 506.23 L729.37 502.42 L730.18 498.52 L731 494.55 L731.82 490.52 L732.65 486.45 L733.48 482.35 L734.31 478.24 L735.14 474.12 L735.96 470.02 L736.78 465.95 L737.59 461.92 L738.4 457.94 L739.2 454 L739.99 450.12 L740.77 446.27 L741.55 442.46 L742.33 438.67 L743.11 434.89 L743.89 431.13 L744.66 427.37 L745.44 423.61 L746.21 419.87 L746.97 416.12 L747.74 412.38 L748.5 408.64 L749.25 404.91 L749.99 401.17 L750.73 397.44 L751.46 393.7 L752.18 389.96 L752.9 386.22 L753.6 382.48 L754.29 378.72 L754.97 374.96 L755.64 371.17 L756.3 367.38 L756.95 363.56 L757.59 359.72 L758.22 355.88 L758.85 352.02 L759.46 348.16 L760.07 344.3 L760.67 340.45 L761.27 336.61 L761.86 332.79 L762.44 328.99 L763.02 325.23 L763.6 321.5 L764.17 317.81 L764.74 314.17 L765.31 310.58 L765.87 307.04 L766.44 303.54 L767 300.1 L767.57 296.69 L768.13 293.31 L768.7 289.97 L769.26 286.64 L769.83 283.35 L770.39 280.08 L770.95 276.85 L771.5 273.65 L772.05 270.5 L772.59 267.41 L773.13 264.36 L773.66 261.38 L774.18 258.46 L774.68 255.61 L775.18 252.83 L775.67 250.14 L776.14 247.53 L776.59 245.01 L777.03 242.6 L777.45 240.29 L777.86 238.09 L778.25 236 L778.62 234.02 L778.98 232.15 L779.32 230.38 L779.65 228.7 L779.96 227.09 L780.27 225.56 L780.57 224.08 L780.86 222.65 L781.14 221.25 L781.42 219.88 L781.7 218.52 L781.98 217.17 L782.26 215.81 L782.54 214.43 L782.82 213.03 L783.11 211.61 L783.41 210.16 L783.7 208.7"/>
</g>
<polygon points="140.5,167 144.2,187.5 136.8,187.5" fill="#1b1b1b"/>
<polygon points="140.5,541.8 136.8,521.3 144.2,521.3" fill="#1b1b1b"/>
<polygon points="140.5,541.8 144.2,562.3 136.8,562.3" fill="#1b1b1b"/>
<polygon points="140.5,698 136.8,677.5 144.2,677.5" fill="#1b1b1b"/>
<polygon points="278,258 257.5,261.7 257.5,254.3" fill="#1b1b1b"/>
<polygon points="342,258 362.5,254.3 362.5,261.7" fill="#1b1b1b"/>
<polygon points="264.3,472.5 284.8,468.8 284.8,476.2" fill="#1b1b1b"/>
<polygon points="355.7,472.5 335.2,476.2 335.2,468.8" fill="#1b1b1b"/>
<polygon points="37,581.2 31.47,561.12 38.84,560.45" fill="#1b1b1b"/>
<polygon points="42.9,647 48.43,667.08 41.06,667.75" fill="#1b1b1b"/>
<polygon points="80,583 74.47,562.92 81.84,562.25" fill="#1b1b1b"/>
<polygon points="84.8,635.2 90.33,655.28 82.96,655.95" fill="#1b1b1b"/>
<polygon points="614.2,102.6 613.95,123.43 606.68,122.03" fill="#1b1b1b"/>
<polygon points="595.2,201 595.45,180.17 602.72,181.57" fill="#1b1b1b"/>
<polygon points="310,662.6 330.5,658.9 330.5,666.3" fill="#1b1b1b"/>
<polygon points="787.9,188.1 787.43,208.93 780.18,207.45" fill="#1b1b1b"/>
<text x="311" y="254" font-size="19.5" text-anchor="middle">Ø45</text>
<text x="394.5" y="468" font-size="19.5" text-anchor="middle">Ø70</text>
<text transform="translate(134.8,654.5) rotate(-90)" font-size="19.5" text-anchor="middle">120</text>
<text transform="translate(134.8,346) rotate(-90) scale(0.88,1)" font-size="32" font-weight="bold" text-anchor="middle">H</text>
<text transform="translate(30.5,534) rotate(-95)" font-size="19.5" text-anchor="middle">Ø50</text>
<text transform="translate(71.5,539) rotate(-95)" font-size="19.5" text-anchor="middle">Ø40</text>
<text transform="translate(601.5,150.2) rotate(-78.7)" font-size="19.5" text-anchor="middle">Ø75</text>
<text transform="translate(644.2,615.2) rotate(-26)" font-size="31" font-weight="bold">L</text>
<g stroke="#2a2a2a" stroke-width="0.95" fill="none">
<path d="M310.3 280V666" stroke-dasharray="9 2 2 2"/>
<path d="M305 581H400" stroke-dasharray="8 2.5 2.5 2.5"/>
<path d="M0 617L197 599.7" stroke-dasharray="9 2 2 2"/>
<path d="M193.4 595V657" stroke-dasharray="7 2 2 2"/>
<path d="M630 156.5L800 190.5" stroke-dasharray="9 2 2 2"/>
</g>
</g>
</svg>
</body></html>
